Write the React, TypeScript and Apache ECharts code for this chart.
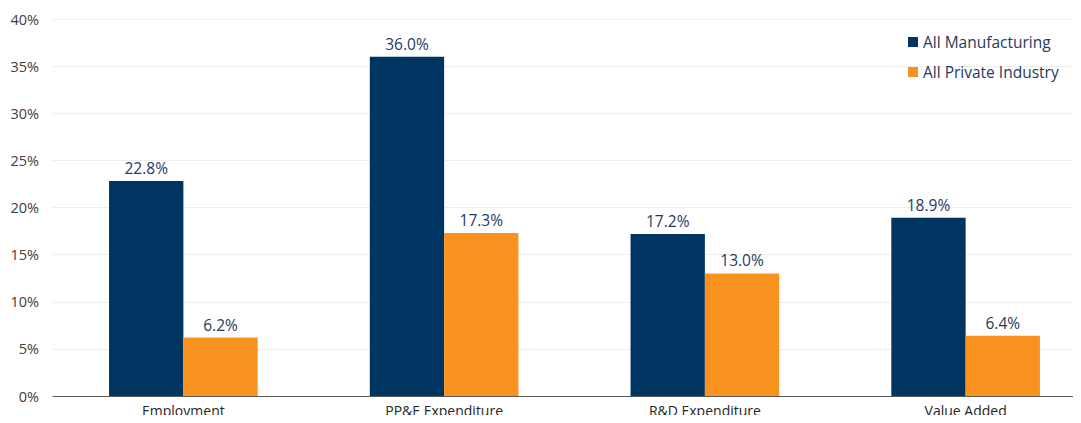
import React, { useEffect, useRef } from "react";
import * as echarts from "echarts";

const categories = ["Employment", "PP&E Expenditure", "R&D Expenditure", "Value Added"];
const manufacturing = [22.8, 36.0, 17.2, 18.9];
const privateIndustry = [6.2, 17.3, 13.0, 6.4];
const seriesNames = ["All Manufacturing", "All Private Industry"];

const FONT = "'Open Sans', 'Noto Sans', sans-serif";

export default function App() {
  const ref = useRef<HTMLDivElement>(null);

  useEffect(() => {
    if (!ref.current) return;
    const chart = echarts.init(ref.current, undefined, { renderer: "svg" });
    const label = {
      show: true,
      position: "top" as const,
      distance: 5,
      color: "#1F3A60",
      fontFamily: FONT,
      fontSize: 15.5,
      formatter: (p: any) => `${Number(p.value).toFixed(1)}%`,
    };
    chart.setOption({
      animation: false,
      backgroundColor: "#ffffff",
      // plot area runs slightly past the right edge of the canvas
      grid: {
        left: 53,
        width: 1043,
        top: 19,
        bottom: 27,
        containLabel: false,
        outerBoundsMode: "none",
      },
      legend: {
        orient: "vertical",
        left: 903,
        top: 29,
        itemWidth: 10,
        itemHeight: 10,
        itemGap: 14,
        icon: "rect",
        textStyle: { color: "#1F3A60", fontFamily: FONT, fontSize: 15.5 },
        data: seriesNames,
      },
      xAxis: {
        type: "category",
        data: categories,
        axisLine: { lineStyle: { color: "#595959", width: 1 } },
        axisTick: { show: false },
        axisLabel: { color: "#262626", fontFamily: FONT, fontSize: 14, margin: 7 },
      },
      yAxis: {
        type: "value",
        min: 0,
        max: 40,
        interval: 5,
        axisLine: { show: false },
        axisTick: { show: false },
        splitLine: { lineStyle: { color: "#EEEEEE", width: 1 } },
        axisLabel: {
          color: "#404040",
          fontFamily: FONT,
          fontSize: 14.5,
          margin: 14,
          formatter: (v: number) => `${v}%`,
        },
      },
      series: [
        {
          name: seriesNames[0],
          type: "bar",
          data: manufacturing,
          barGap: "0%",
          barCategoryGap: "43%",
          itemStyle: { color: "#003461" },
          label,
        },
        {
          name: seriesNames[1],
          type: "bar",
          data: privateIndustry,
          itemStyle: { color: "#F7931E" },
          label,
        },
      ],
    });
    return () => chart.dispose();
  }, []);

  return <div ref={ref} style={{ width: 1081, height: 423, margin: -8 }} />;
}
